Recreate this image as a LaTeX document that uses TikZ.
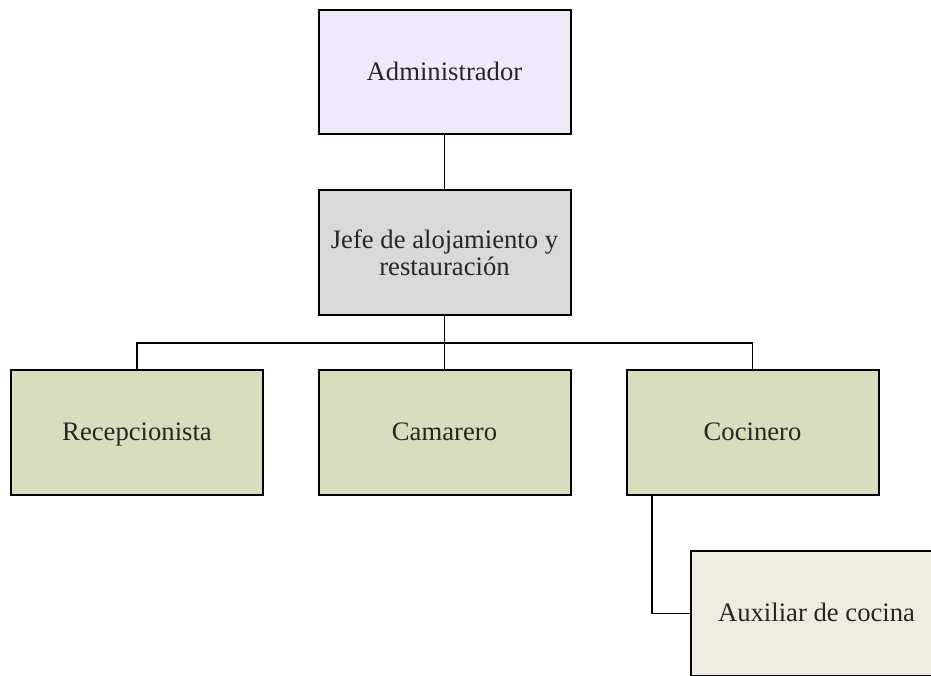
\documentclass[tikz,border=0pt]{standalone}
\usepackage{fontspec}
\setmainfont{Liberation Serif}
\definecolor{adminfill}{HTML}{F1E9FB}
\definecolor{jefefill}{HTML}{D9D9D9}
\definecolor{staffill}{HTML}{D7DEBD}
\definecolor{auxfill}{HTML}{EEECE1}
\tikzset{
  orgbox/.style={draw=black, line width=1.5pt, rectangle, minimum width=189pt, minimum height=93.5pt, inner sep=0pt, align=center, text=black!85, font=\fontsize{20}{20}\selectfont},
  oneline/.style={text height=15pt, text depth=3pt},
  link/.style={draw=black, line width=1.2pt}
}
\begin{document}
\begin{tikzpicture}[x=0.75pt, y=-0.75pt]
\useasboundingbox (0,0) rectangle (931,675);
\clip (0,0) rectangle (931,675);
\node[orgbox, oneline, fill=adminfill] (admin) at (444.5,72) {Administrador};
\node[orgbox, fill=jefefill] (jefe) at (444.5,252.5) {Jefe de alojamiento y\\restauración};
\node[orgbox, oneline, fill=staffill] (recep) at (137,432.5) {Recepcionista};
\node[orgbox, oneline, fill=staffill] (cam) at (444.5,432.5) {Camarero};
\node[orgbox, oneline, fill=staffill] (coc) at (752.5,432.5) {Cocinero};
\node[orgbox, oneline, fill=auxfill] (aux) at (816.5,613.5) {Auxiliar de cocina};
\coordinate (bus) at (444.5,343);
\draw[link] (admin.south) -- (jefe.north);
\draw[link] (jefe.south) -- (cam.north);
\draw[link] (recep.north) |- (bus) -| (coc.north);
\draw[link] ([xshift=-75.5pt]coc.south) |- (aux.west);
\end{tikzpicture}
\end{document}
